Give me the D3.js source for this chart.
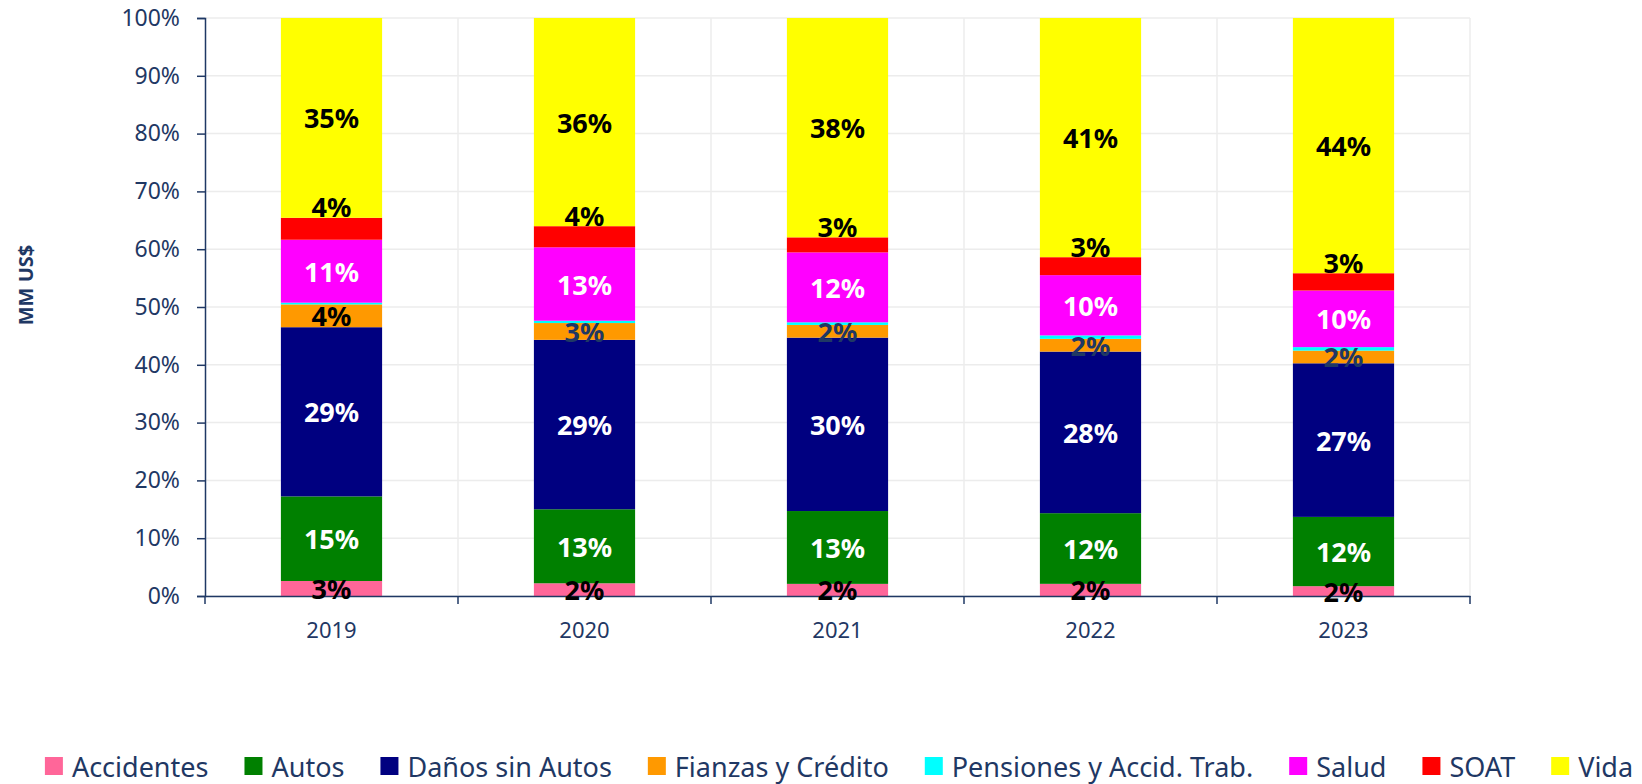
<!DOCTYPE html>
<meta charset="utf-8">

<!--load d3.js-->
<script src="https://d3js.org/d3.v7.min.js"></script>

<style>
    body { margin: 0; background: #fff; }
    text { font-family: "Noto Sans", sans-serif; }
</style>

<div id="chart">
</div>

<script>
    // data (percent share of each line per year)
    const years = ["2019", "2020", "2021", "2022", "2023"];
    const series = ["Accidentes", "Autos", "Daños sin Autos", "Fianzas y Crédito",
        "Pensiones y Accid. Trab.", "Salud", "SOAT", "Vida"];
    const accidentes = [2.6, 2.2, 2.1, 2.1, 1.7];
    const autos = [14.65, 12.8, 12.6, 12.2, 12.0];
    const danos = [29.3, 29.3, 30.0, 27.9, 26.6];
    const fianzas = [3.95, 2.9, 2.2, 2.2, 2.2];
    const pensiones = [0.3, 0.4, 0.45, 0.6, 0.6];
    const salud = [10.9, 12.7, 12.1, 10.4, 9.8];
    const soat = [3.8, 3.65, 2.6, 3.1, 3.0];
    const vida = [34.6, 36.0, 37.95, 41.3, 44.2];
    const yTicks = [0, 0.1, 0.2, 0.3, 0.4, 0.5, 0.6, 0.7, 0.8, 0.9, 1];

    const colors = ["#FF6699", "#008000", "#000080", "#FF9900", "#00FFFF", "#FF00FF", "#FF0000", "#FFFF00"];
    const navy = "#1F3864";

    // label colour per series (Fianzas switches to navy after 2019)
    function labelColor(key, year) {
        if (key == "Autos" || key == "Daños sin Autos" || key == "Salud") return "#fff";
        if (key == "Fianzas y Crédito" && year != "2019") return navy;
        return "#000";
    }

    // build a table for d3.stack
    const valueLists = [accidentes, autos, danos, fianzas, pensiones, salud, soat, vida];
    const table = years.map((y, i) => {
        const row = { year: y };
        series.forEach((s, j) => row[s] = valueLists[j][i]);
        return row;
    });

    //set the dimensions and margins of the graph
    const margin = { top: 18, right: 172, bottom: 188, left: 205 },
        width = 1642 - margin.left - margin.right,
        height = 784 - margin.top - margin.bottom;

    const root = d3.select("#chart")
        .append("svg")
        .attr("width", 1642)
        .attr("height", 784);

    const svg = root.append("g")
        .attr("transform", `translate(${margin.left}, ${margin.top})`);

    const x = d3.scaleBand()
        .domain(years)
        .range([0, width]);

    const y = d3.scaleLinear()
        .domain([0, 1])
        .range([height, 0]);

    const stacked = d3.stack()
        .keys(series)
        .offset(d3.stackOffsetExpand)(table);

    // gridlines
    svg.append("g")
        .selectAll("line")
        .data(yTicks)
        .join("line")
        .attr("x1", 0)
        .attr("x2", width)
        .attr("y1", d => y(d))
        .attr("y2", d => y(d))
        .attr("stroke", "#ECECEC")
        .attr("stroke-width", 1.5);

    const bounds = years.map(d => x(d)).concat([width]);
    svg.append("g")
        .selectAll("line")
        .data(bounds.slice(1))
        .join("line")
        .attr("x1", d => d)
        .attr("x2", d => d)
        .attr("y1", 0)
        .attr("y2", height)
        .attr("stroke", "#ECECEC")
        .attr("stroke-width", 1.5);

    // bars
    const barW = x.bandwidth() * 0.4;
    const layers = svg.append("g")
        .selectAll("g")
        .data(stacked)
        .join("g")
        .attr("fill", (d, i) => colors[i]);

    layers.selectAll("rect")
        .data(d => d)
        .join("rect")
        .attr("x", d => x(d.data.year) + (x.bandwidth() - barW) / 2)
        .attr("width", barW)
        .attr("y", d => y(d[1]))
        .attr("height", d => y(d[0]) - y(d[1]));

    // axes
    const yAxis = svg.append("g")
        .call(d3.axisLeft(y).tickValues(yTicks).tickFormat(d3.format(".0%")).tickSize(8).tickPadding(17));
    yAxis.selectAll("text")
        .attr("fill", navy)
        .style("font-size", "23px");
    yAxis.selectAll("line,path").attr("stroke", navy).attr("stroke-width", 1.5);

    const xAxis = svg.append("g")
        .attr("transform", `translate(0, ${height})`)
        .call(d3.axisBottom(x).tickSize(0).tickSizeOuter(0).tickPadding(26));
    xAxis.selectAll("text")
        .attr("fill", navy)
        .style("font-size", "22px");
    xAxis.select("path").attr("stroke", navy).attr("stroke-width", 1.5);

    // ticks between categories
    xAxis.append("g")
        .selectAll("line")
        .data(bounds)
        .join("line")
        .attr("x1", d => d)
        .attr("x2", d => d)
        .attr("y1", 0)
        .attr("y2", 8)
        .attr("stroke", navy)
        .attr("stroke-width", 1.5);

    // data labels (Pensiones is too thin, Excel hides it)
    // SOAT labels sit just above their segment, like in the original
    stacked.forEach(layer => {
        if (layer.key == "Pensiones y Accid. Trab.") return;
        svg.append("g")
            .selectAll("text")
            .data(layer)
            .join("text")
            .attr("x", d => x(d.data.year) + x.bandwidth() / 2)
            .attr("y", d => layer.key == "SOAT" ? y(d[1]) - 11 : y((d[0] + d[1]) / 2))
            .attr("text-anchor", "middle")
            .attr("dominant-baseline", "central")
            .style("font-size", "27px")
            .style("font-weight", "bold")
            .attr("fill", d => labelColor(layer.key, d.data.year))
            .text(d => Math.round((d[1] - d[0]) * 100) + "%");
    });

    // y title
    root.append("text")
        .attr("transform", "translate(25, 285) rotate(-90)")
        .attr("text-anchor", "middle")
        .attr("dominant-baseline", "central")
        .style("font-size", "20px")
        .style("font-weight", "bold")
        .attr("fill", navy)
        .text("MM US$");

    // legend
    const legend = root.append("g");
    let cx = 0;
    series.forEach((s, i) => {
        const item = legend.append("g").attr("transform", `translate(${cx}, 0)`);
        item.append("rect")
            .attr("x", 0)
            .attr("y", -9)
            .attr("width", 18)
            .attr("height", 18)
            .attr("fill", colors[i]);
        const t = item.append("text")
            .attr("x", 27)
            .attr("y", 0)
            .attr("dominant-baseline", "central")
            .style("font-size", "27px")
            .attr("fill", navy)
            .text(s);
        cx += 27 + t.node().getComputedTextLength() + 36;
    });
    const legendW = cx - 36;
    legend.attr("transform", `translate(${839 - legendW / 2}, 766)`);
</script>
